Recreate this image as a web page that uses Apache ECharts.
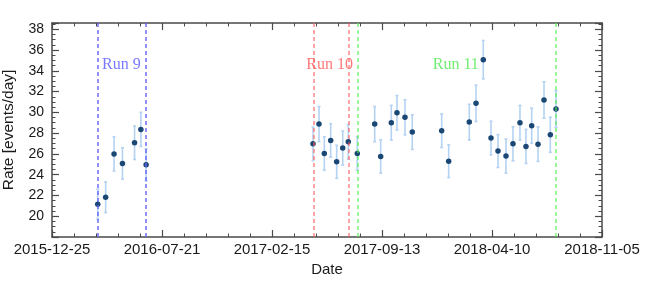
<!DOCTYPE html>
<html><head><meta charset="utf-8">
<script src="https://cdn.jsdelivr.net/npm/echarts@6/dist/echarts.min.js"></script>
<style>html,body{margin:0;padding:0;background:#fff}#c{width:654px;height:282px}</style>
</head><body><div id="c"></div>
<script>
// x values: days since 2015-12-25
const startDate = '2015-12-25';
const dayOffsets = [87, 102, 118, 134, 157, 169, 179,
  496.4, 507.8, 517.9, 530, 541.4, 552.9, 563.5, 580.6,
  613.7, 625.1, 645.3, 656.1, 671.3, 685.2,
  741.1, 754.4, 793.6, 806.4, 820.2, 834.9, 848.2, 863.4, 876.7, 890, 901.4, 912.3, 924.3, 935.7, 947.7, 958.5];
const rates = [21.16, 21.83, 26.0, 25.08, 27.07, 28.36, 24.95,
  26.97, 28.87, 26.04, 27.3, 25.24, 26.56, 27.17, 26.04,
  28.87, 25.75, 29.0, 29.96, 29.52, 28.1,
  28.23, 25.3, 29.06, 30.87, 35.07, 27.52, 26.27, 25.79, 26.97, 29.0, 26.72, 28.71, 26.94, 31.19, 27.84, 30.32];
const rateErrors = [1.45, 1.48, 1.64, 1.51, 1.61, 1.64, 1.55,
  1.61, 1.69, 1.61, 1.61, 1.59, 1.64, 1.66, 1.61,
  1.69, 1.61, 1.67, 1.66, 1.69, 1.67,
  1.62, 1.58, 1.72, 1.75, 1.85, 1.62, 1.58, 1.64, 1.64, 1.67, 1.64, 1.69, 1.66, 1.75, 1.69, 1.77];
const xTickLabels = ['2015-12-25', '2016-07-21', '2017-02-15', '2017-09-13', '2018-04-10', '2018-11-05'];
const xTickStep = 209.2;
const yMin = 18, yMax = 38.6, yStep = 2;
const runNames = ['Run 9', 'Run 10', 'Run 11'];
const runBounds = [[87, 179], [497, 563.5], [580.6, 958.5]];
const runLineColors = ['rgba(100,100,255,0.7)', 'rgba(255,90,90,0.55)', 'rgba(70,240,70,0.55)'];
const runTextColors = ['#5656ff', '#ff5656', '#4ce84c'];
const runLabelDays = [132, 528, 768];
const runLabelRate = 34.6;

const xMax = xTickStep * (xTickLabels.length - 1);
const axisColor = '#4a4a4a';
const font = 'Liberation Sans';

const points = dayOffsets.map((d, i) => [d, rates[i]]);
const bars = dayOffsets.map((d, i) => [d, rates[i], rates[i] - rateErrors[i], rates[i] + rateErrors[i]]);

const markLineData = [];
runBounds.forEach((b, r) => b.forEach(v => markLineData.push({
  xAxis: v, lineStyle: { color: runLineColors[r], type: [4, 3], width: 2 }
})));

function xAxisDef(pos, showLabels) {
  return {
    type: 'value', position: pos, min: 0, max: xMax, interval: xTickStep,
    splitLine: { show: false },
    axisLine: { show: true, onZero: false, lineStyle: { color: axisColor, width: 1.5 } },
    axisTick: { show: true, inside: true, length: 7, lineStyle: { color: axisColor, width: 1.2 } },
    minorTick: { show: true, splitNumber: 5, length: 3.5, lineStyle: { color: axisColor, width: 1 } },
    axisLabel: {
      show: showLabels, margin: 5, fontFamily: font, fontSize: 15, color: '#1a1a1a',
      showMinLabel: true, showMaxLabel: true,
      formatter: v => { const i = Math.round(v / xTickStep); return xTickLabels[i] || ''; }
    },
    name: showLabels ? 'Date' : '', nameLocation: 'middle', nameGap: 22,
    nameTextStyle: { fontFamily: font, fontSize: 15, color: '#1a1a1a' }
  };
}
function yAxisDef(pos, showLabels) {
  return {
    type: 'value', position: pos, min: yMin, max: yMax, interval: yStep,
    splitLine: { show: false },
    axisLine: { show: true, onZero: false, lineStyle: { color: axisColor, width: 1.5 } },
    axisTick: { show: true, inside: true, length: 7, lineStyle: { color: axisColor, width: 1.2 } },
    minorTick: { show: true, splitNumber: 4, length: 3.5, lineStyle: { color: axisColor, width: 1 } },
    axisLabel: {
      show: showLabels, margin: 8, fontFamily: font, fontSize: 14, color: '#1a1a1a',
      formatter: v => (v === yMin || Math.abs(v % yStep) > 1e-6) ? '' : String(v)
    },
    name: showLabels ? 'Rate [events/day]' : '', nameLocation: 'middle', nameGap: 35,
    nameTextStyle: { fontFamily: font, fontSize: 15.5, color: '#1a1a1a' }
  };
}

const chart = echarts.init(document.getElementById('c'), null, { renderer: 'canvas' });
chart.setOption({
  animation: false,
  backgroundColor: '#fff',
  grid: { left: 52, right: 52, top: 23, bottom: 45, containLabel: false, outerBoundsMode: 'none' },
  xAxis: [xAxisDef('bottom', true), xAxisDef('top', false)],
  yAxis: [yAxisDef('left', true), yAxisDef('right', false)],
  series: [
    {
      type: 'custom', xAxisIndex: 0, yAxisIndex: 0, z: 2, silent: true,
      data: bars,
      renderItem: (params, api) => {
        const x = api.value(0);
        const lo = api.coord([x, api.value(2)]);
        const hi = api.coord([x, api.value(3)]);
        const st = { stroke: '#b4d2f2', lineWidth: 1.6 };
        return { type: 'group', children: [
          { type: 'line', shape: { x1: lo[0], y1: lo[1], x2: hi[0], y2: hi[1] }, style: st },
          { type: 'line', shape: { x1: lo[0] - 1.5, y1: lo[1], x2: lo[0] + 1.5, y2: lo[1] }, style: st },
          { type: 'line', shape: { x1: hi[0] - 1.5, y1: hi[1], x2: hi[0] + 1.5, y2: hi[1] }, style: st }
        ] };
      }
    },
    {
      type: 'scatter', xAxisIndex: 0, yAxisIndex: 0, z: 3, silent: true,
      symbolSize: 5.5, itemStyle: { color: '#1a4774', opacity: 1 },
      data: points
    },
    {
      type: 'line', xAxisIndex: 0, yAxisIndex: 0, z: 4, silent: true,
      data: [], symbol: 'none',
      markLine: { silent: true, symbol: 'none', label: { show: false }, data: markLineData }
    },
    {
      type: 'scatter', xAxisIndex: 0, yAxisIndex: 0, z: 5, silent: true,
      symbolSize: 0,
      data: runNames.map((n, i) => ({
        value: [runLabelDays[i], runLabelRate], name: n,
        label: { show: true, position: 'inside', formatter: n, color: runTextColors[i],
          fontFamily: 'Liberation Serif', fontSize: 16 }
      }))
    }
  ]
});
</script>
</body></html>
